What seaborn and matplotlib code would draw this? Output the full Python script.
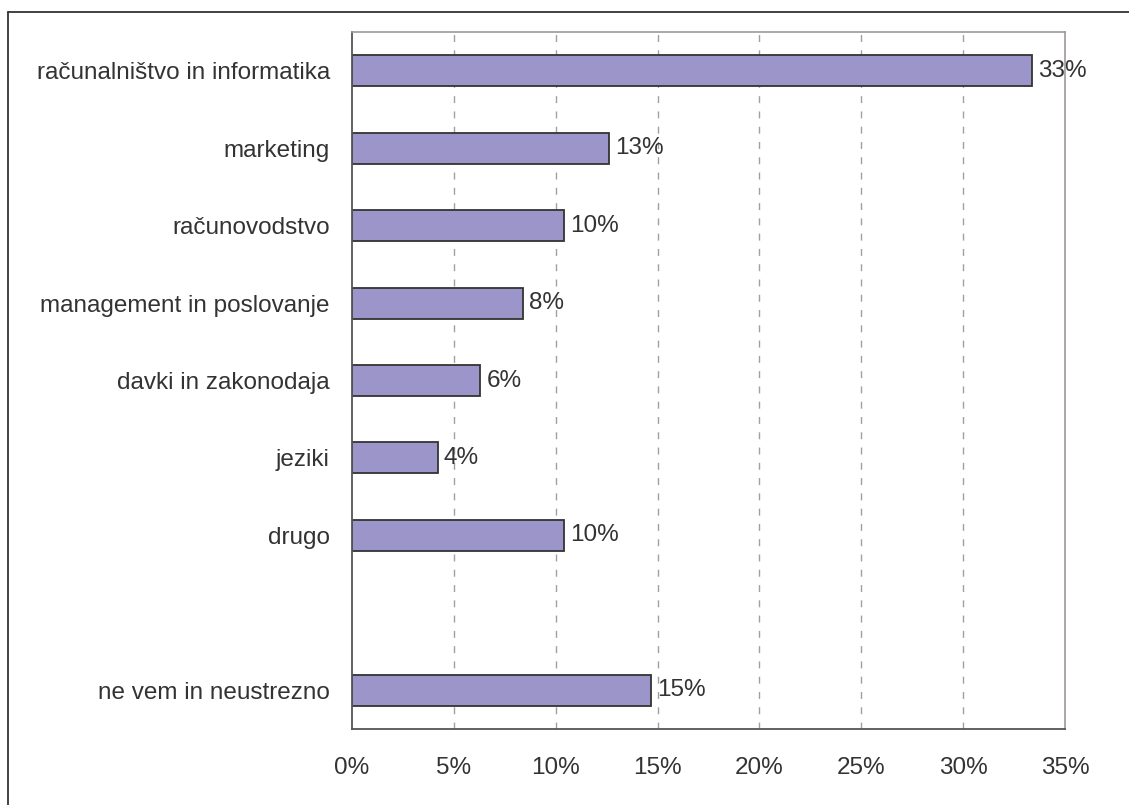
import matplotlib
matplotlib.use("Agg")
import matplotlib.pyplot as plt
import seaborn as sns
import pandas as pd
from matplotlib.lines import Line2D

categories = [
    "računalništvo in informatika",
    "marketing",
    "računovodstvo",
    "management in poslovanje",
    "davki in zakonodaja",
    "jeziki",
    "drugo",
    " ",
    "ne vem in neustrezno",
]
values = [33.4, 12.6, 10.4, 8.4, 6.3, 4.2, 10.4, None, 14.7]
value_labels = ["33%", "13%", "10%", "8%", "6%", "4%", "10%", "", "15%"]
x_ticks = [0, 5, 10, 15, 20, 25, 30, 35]
x_tick_labels = ["0%", "5%", "10%", "15%", "20%", "25%", "30%", "35%"]

sns.set_theme(style="white")
plt.rcParams["font.family"] = ["Liberation Sans", "DejaVu Sans"]

df = pd.DataFrame({"cat": categories, "val": values})

fig = plt.figure(figsize=(11.29, 8.05), dpi=100)
ax = fig.add_axes([352 / 1129, 1 - 729 / 805, (1065 - 352) / 1129, (729 - 32) / 805])

sns.barplot(data=df, y="cat", x="val", order=categories, orient="h",
            color="#9B95C9", edgecolor="#333333", linewidth=1.3,
            width=0.4, saturation=1, ax=ax)

FS = 17.5
TC = "#333333"
ax.set_xlim(0, 35)
ax.set_ylim(len(categories) - 0.5, -0.5)
ax.set_xticks(x_ticks)
ax.set_xticklabels(x_tick_labels, fontsize=FS, color=TC)
ax.tick_params(axis="x", direction="out", length=6, width=1, color="#555555", pad=14)
ax.tick_params(axis="y", length=0, pad=16, labelsize=FS, labelcolor=TC)
ax.set_xlabel("")
ax.set_ylabel("")

for x in x_ticks[1:-1]:
    ax.axvline(x, color="#A0A0A0", linestyle=(0, (5, 6)), linewidth=1, zorder=0)

for i, (v, lab) in enumerate(zip(values, value_labels)):
    if v is None:
        continue
    ax.text(v + 0.3, i, lab, va="center", ha="left", fontsize=FS, color=TC)

for side in ["top", "right"]:
    ax.spines[side].set_color("#A09898")
    ax.spines[side].set_linewidth(1.2)
for side in ["left", "bottom"]:
    ax.spines[side].set_color("#555555")
    ax.spines[side].set_linewidth(1.3)

# outer chart frame (left and top edges)
fig.add_artist(Line2D([8 / 1129, 8 / 1129], [0, 1 - 12 / 805], transform=fig.transFigure,
                      color="#333333", linewidth=1.3))
fig.add_artist(Line2D([8 / 1129, 1], [1 - 12 / 805, 1 - 12 / 805], transform=fig.transFigure,
                      color="#333333", linewidth=1.3))

fig.savefig("out.png", dpi=100)
